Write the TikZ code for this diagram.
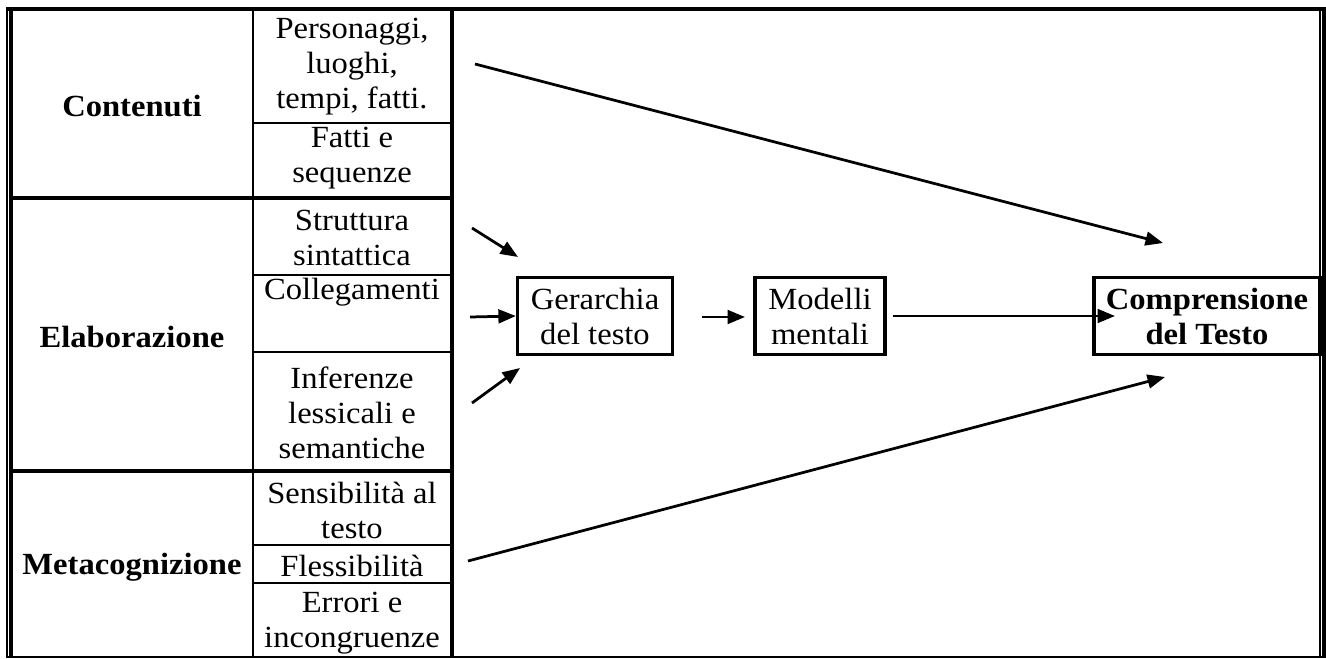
\documentclass[tikz,border=0pt]{standalone}
\usepackage{fontspec}
\setmainfont{Liberation Serif}[FakeStretch=1.06]
\usetikzlibrary{arrows.meta}

\begin{document}
\begin{tikzpicture}[x=0.4pt,y=-0.4pt,font=\fontsize{12.3}{14}\selectfont]
       \tikzstyle{arrow} = [line width=1.1pt,->,>={Triangle[length=7pt,width=5.5pt]}]
       \tikzstyle{cell} = [align=center, inner sep=0pt]
       \tikzstyle{stage} = [rectangle, draw=black, line width=1.3pt, minimum height=31pt, align=center, inner sep=0pt]
       \tikzstyle{thinrule} = [line width=0.8pt]
       \tikzstyle{thickrule} = [line width=1.5pt]
       \useasboundingbox (0,0) rectangle (1326,659);

       % frame and table
       \draw [thickrule] (6,9) -- (1325.5,9);
       \draw [line width=1pt] (6,657) -- (1325.5,657);
       \draw [thinrule] (7,9) -- (7,657);
       \draw [thickrule] (11,9) -- (11,657);
       \draw [thinrule] (1320,9) -- (1320,657);
       \draw [thickrule] (1324,9) -- (1324,657);
       \draw [thinrule] (253,9) -- (253,657);
       \draw [thickrule] (452,9) -- (452,657);
       \draw [thickrule] (11,198) -- (452,198);
       \draw [thickrule] (11,471) -- (452,471);
       \foreach \y in {123,275,352,545,583}
        {
          \draw [thinrule] (253,\y) -- (452,\y);
        }

       \node (contenuti) [cell] at (132,106) {\textbf{Contenuti}};
       \node (elaborazione) [cell] at (132,337) {\textbf{Elaborazione}};
       \node (metacognizione) [cell] at (132,567) {\textbf{Metacognizione}};

       \node (personaggi) [cell] at (352,67) {Personaggi,\\luoghi,\\tempi, fatti.};
       \node (fatti) [cell] at (352,158) {Fatti e\\sequenze};
       \node (struttura) [cell] at (352,238) {Struttura\\sintattica};
       \node (collegamenti) [cell] at (352,292) {Collegamenti};
       \node (inferenze) [cell] at (352,413) {Inferenze\\lessicali e\\semantiche};
       \node (sensibilita) [cell] at (352,510) {Sensibilità al\\testo};
       \node (flessibilita) [cell] at (352,566) {Flessibilità};
       \node (errori) [cell] at (352,623) {Errori e\\incongruenze};

       \node (gerarchia) [stage, minimum width=62pt] at (595,316) {Gerarchia\\del testo};
       \node (modelli) [stage, minimum width=52pt] at (820,316) {Modelli\\mentali};
       \node (comprensione) [stage, minimum width=90.4pt] at (1207,316) {\textbf{Comprensione}\\\textbf{del Testo}};

       \coordinate (top-a) at (475,64);
       \coordinate (top-b) at (1163,243);
       \coordinate (bot-a) at (468,561);
       \coordinate (bot-b) at (1165,377);
       \coordinate (in-1) at (472,228);
       \coordinate (out-1) at (518,257);
       \coordinate (in-2) at (470,317);
       \coordinate (in-3) at (472,403);
       \coordinate (out-3) at (520,368);
       \coordinate (mid-a) at (702,317);
       \coordinate (mid-b) at (745,317);
       \coordinate (end-a) at (893,316);
       \coordinate (end-b) at (1115,316);

       \draw [arrow] (top-a) -- (top-b);
       \draw [arrow] (bot-a) -- (bot-b);
       \draw [arrow] (in-1) -- (out-1);
       \draw [arrow] (in-2) -- (gerarchia.west);
       \draw [arrow] (in-3) -- (out-3);
       \draw [arrow] (mid-a) -- (mid-b);
       \draw [arrow] (end-a) -- (end-b);
\end{tikzpicture}
\end{document}
